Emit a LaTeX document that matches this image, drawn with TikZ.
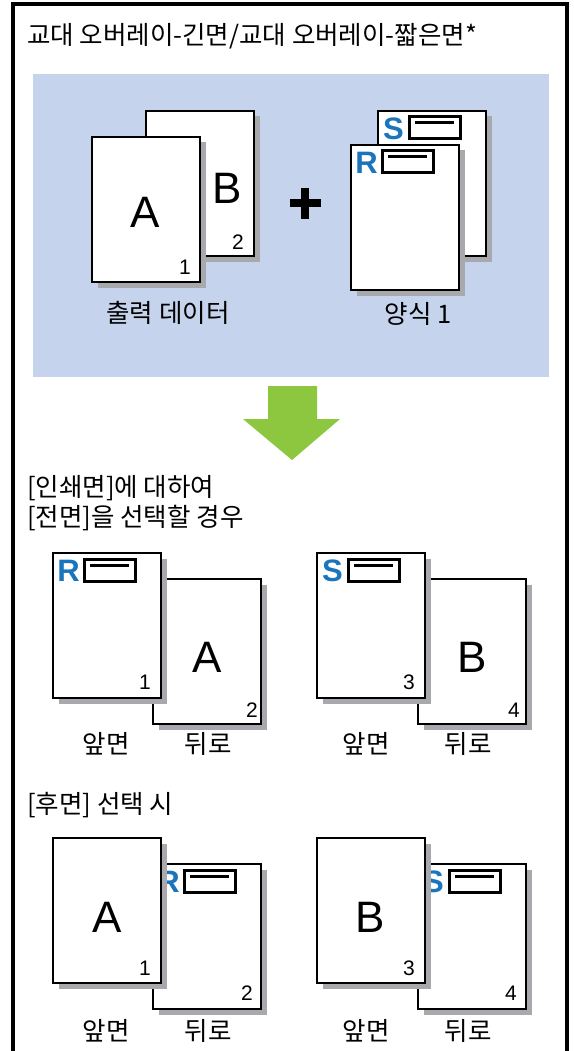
\documentclass[tikz,border=0pt]{standalone}
\usepackage{fontspec}
\setmainfont{Noto Sans CJK KR}
\newfontfamily\latfont{Liberation Sans}
\definecolor{bandblue}{RGB}{197,211,236}
\definecolor{shadowgray}{RGB}{167,169,172}
\definecolor{formblue}{RGB}{27,117,188}
\definecolor{arrowgreen}{RGB}{141,198,63}
\newcommand\mypage[3]{%
  \fill[shadowgray] (#2+5.5,#3+5.5) rectangle ++(108,145);
  \draw[pageborder] (#2,#3) rectangle ++(108,145);
  \coordinate (#1) at (#2,#3);
}
\newcommand\myform[4]{%
  \node[formletter] (#1) at (#3+15.5,#4+18) {#2};
  \draw[formbox] (#3+31,#4+6) rectangle (#3+82,#4+28);
  \draw[formline] (#3+37,#4+12) -- (#3+76,#4+12);
}
\begin{document}
\begin{tikzpicture}[x=1pt,y=-1pt,
  pageborder/.style={draw=black,fill=white,line width=2.6pt},
  formletter/.style={inner sep=0pt,text=formblue,font=\latfont\bfseries\fontsize{31}{31}\selectfont},
  formbox/.style={draw=black,line width=3pt},
  formline/.style={draw=black,line width=3pt},
  bigletter/.style={inner sep=0pt,font=\latfont\fontsize{44}{44}\selectfont},
  pagenum/.style={inner sep=0pt,font=\latfont\fontsize{21}{21}\selectfont},
  ktext/.style={inner sep=0pt,font=\fontsize{25.5}{30}\selectfont},
]
\useasboundingbox (0,0) rectangle (573,1051);
\fill[white] (0,0) rectangle (573,1051);
% outer frame
\draw[line width=4pt] (13,1052) -- (13,4) -- (567,4) -- (567,1052);
% title
\node[ktext,anchor=west] (title) at (27,36) {교대 오버레이-긴면/교대 오버레이-짧은면*};
% band
\fill[bandblue] (33,74) rectangle (549,377);
% output data stack
\mypage{pB}{146}{111}
\node[bigletter] (lB) at (227,188) {B};
\node[pagenum] (n2) at (238,242) {2};
\mypage{pA}{92}{137}
\node[bigletter] (lA) at (145,212) {A};
\node[pagenum] (n1) at (185,267) {1};
\node[ktext] (outdata) at (168,313) {출력 데이터};
% plus
\fill (289.5,198.75) rectangle (320.5,207.25);
\fill (300.75,187.5) rectangle (309.25,218.5);
% form stack
\mypage{pS}{378}{111}
\myform{fS}{S}{378}{111}
\mypage{pR}{351}{145}
\myform{fR}{R}{351}{145}
\node[ktext] (form1) at (418,314) {양식 1};
% green arrow
\fill[arrowgreen] (268,386) -- (317,386) -- (317,419) -- (340,419) -- (292,460) -- (243,419) -- (268,419) -- cycle;
% front side heading
\node[ktext,anchor=west] (h1a) at (27,488) {[인쇄면]에 대하여};
\node[ktext,anchor=west] (h1b) at (27,518) {[전면]을 선택할 경우};
% middle row, left pair
\mypage{m1b}{153}{579}
\node[bigletter] (m1A) at (207,657) {A};
\node[pagenum] (m1n2) at (252,710) {2};
\mypage{m1f}{53}{553}
\myform{m1R}{R}{53}{553}
\node[pagenum] (m1n1) at (145,682) {1};
\node[ktext] (m1front) at (106,744) {앞면};
\node[ktext] (m1back) at (208,744) {뒤로};
% middle row, right pair
\mypage{m2b}{418}{579}
\node[bigletter] (m2B) at (472,657) {B};
\node[pagenum] (m2n4) at (514,710) {4};
\mypage{m2f}{317}{553}
\myform{m2S}{S}{317}{553}
\node[pagenum] (m2n3) at (409,682) {3};
\node[ktext] (m2front) at (366,744) {앞면};
\node[ktext] (m2back) at (468,744) {뒤로};
% back side heading
\node[ktext,anchor=west] (h2) at (27,805) {[후면] 선택 시};
% bottom row, left pair
\mypage{b1b}{153}{864}
\myform{b1R}{R}{153}{864}
\node[pagenum] (b1n2) at (247,993) {2};
\mypage{b1f}{53}{838}
\node[bigletter] (b1A) at (107,917) {A};
\node[pagenum] (b1n1) at (145,968) {1};
\node[ktext] (b1front) at (106,1031) {앞면};
\node[ktext] (b1back) at (208,1031) {뒤로};
% bottom row, right pair
\mypage{b2b}{418}{864}
\myform{b2S}{S}{418}{864}
\node[pagenum] (b2n4) at (511,993) {4};
\mypage{b2f}{317}{838}
\node[bigletter] (b2B) at (370,917) {B};
\node[pagenum] (b2n3) at (409,968) {3};
\node[ktext] (b2front) at (366,1031) {앞면};
\node[ktext] (b2back) at (468,1031) {뒤로};
\end{tikzpicture}
\end{document}
